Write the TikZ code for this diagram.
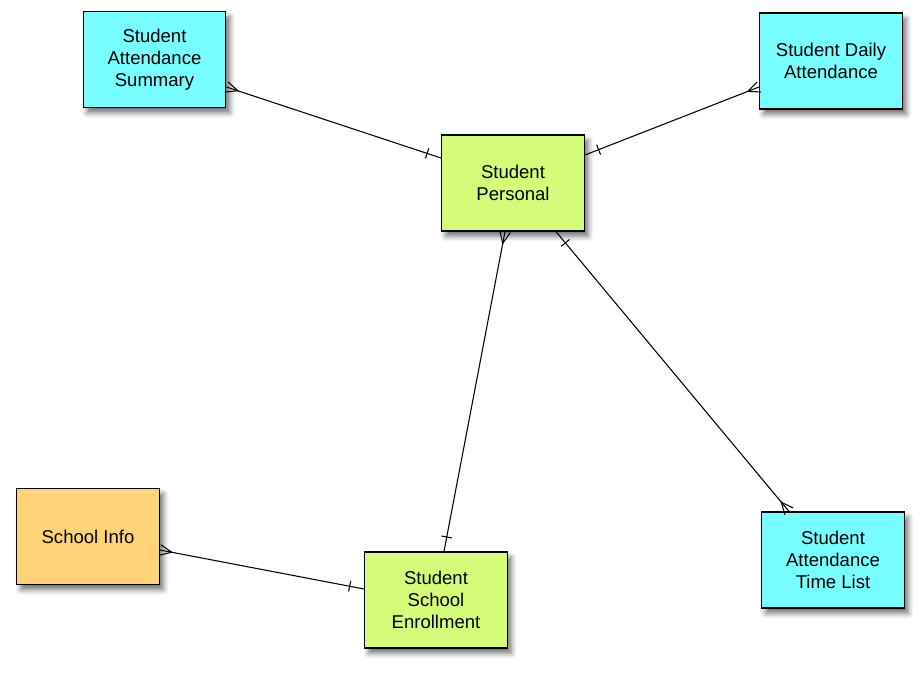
\documentclass[tikz,border=0pt]{standalone}
\usepackage{fontspec}
\setmainfont{Liberation Sans}
\usetikzlibrary{calc,decorations.markings,shadows.blur}

\definecolor{iceblue}{HTML}{78FEFF}
\definecolor{honeydew}{HTML}{D4FB79}
\definecolor{cantaloupe}{HTML}{FFD479}

\begin{document}
\begin{tikzpicture}[
  x=0.75pt, y=-0.75pt,
  entity/.style   = {draw=black, line width=0.9pt, minimum width=107pt,
                     minimum height=72pt, align=center, inner sep=2pt,
                     font=\fontsize{13.9}{16.5}\selectfont,
                     blur shadow={shadow xshift=3pt, shadow yshift=-4pt,
                                  shadow blur radius=4pt, shadow opacity=55}},
  rel/.style      = {line width=0.8pt, postaction={decorate}},
  onestart/.style = {decoration={markings, mark=at position 11pt with
                       {\draw[line width=0.8pt] (0,-4pt) -- (0,4pt);}}},
  oneend/.style   = {decoration={markings, mark=at position -11pt with
                       {\draw[line width=0.8pt] (0,-4pt) -- (0,4pt);}}},
  manystart/.style= {decoration={markings, mark=at position 9pt with
                       {\draw[line width=0.8pt] (-9pt,-4pt) -- (0,0) -- (-9pt,4pt);}}},
  manyend/.style  = {decoration={markings, mark=at position -9pt with
                       {\draw[line width=0.8pt] (9pt,-4pt) -- (0,0) -- (9pt,4pt);}}}
]
\useasboundingbox (0,0) rectangle (922,672);

% ---- entities ----
\node[entity, fill=iceblue]    (summary)  at (154.5,59.5) {Student\\Attendance\\Summary};
\node[entity, fill=iceblue]    (daily)    at (831,61)     {Student Daily\\Attendance};
\node[entity, fill=honeydew]   (personal) at (513,183)    {Student\\Personal};
\node[entity, fill=cantaloupe] (school)   at (88,536.5)   {School Info};
\node[entity, fill=honeydew]   (enroll)   at (436,600)    {Student\\School\\Enrollment};
\node[entity, fill=iceblue]    (timelist) at (833,560)    {Student\\Attendance\\Time List};

% ---- relations ----
\draw[rel, manystart, oneend]
  ($(summary.east)+(0,27.5)$) -- ($(personal.west)+(0,-25)$);
\draw[rel, manystart, oneend]
  ($(daily.west)+(0,26)$) -- ($(personal.east)+(0,-28)$);
\draw[rel, manystart, oneend]
  ($(personal.south)+(-8,0)$) -- ($(enroll.north)+(8,0)$);
\draw[rel, onestart, manyend]
  ($(personal.south)+(43,0)$) -- ($(timelist.north)+(-44,0)$);
\draw[rel, manystart, oneend]
  ($(school.east)+(0,13.5)$) -- ($(enroll.west)+(0,-11)$);

\end{tikzpicture}
\end{document}
